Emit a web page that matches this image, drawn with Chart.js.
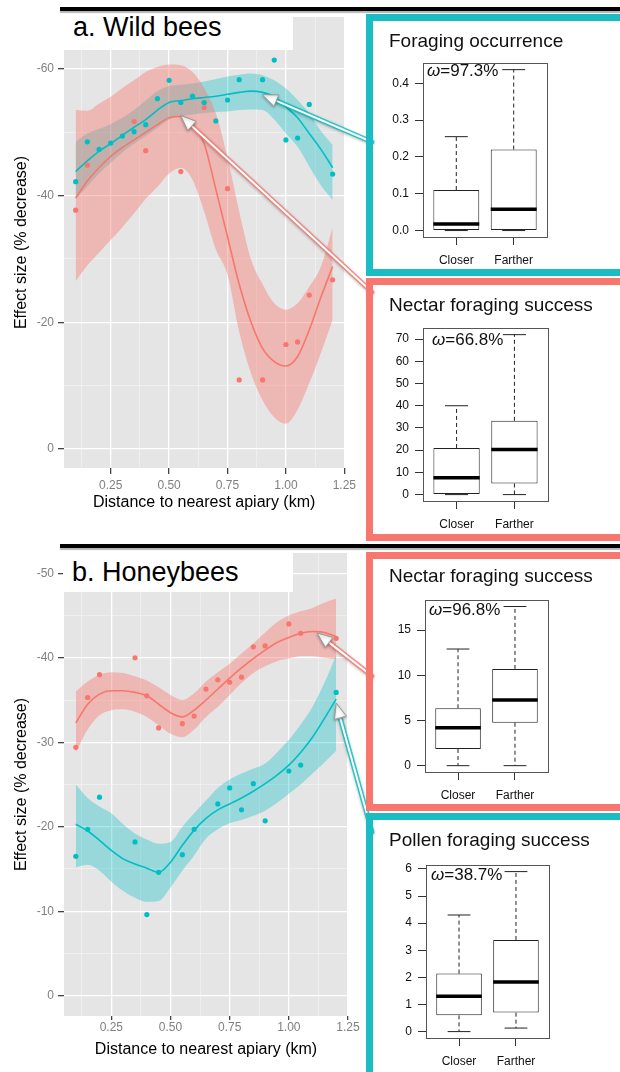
<!DOCTYPE html>
<html>
<head>
<meta charset="utf-8">
<script src="https://cdn.jsdelivr.net/npm/chart.js@4.4.1/dist/chart.umd.min.js"></script>
<style>
  body { margin: 0; background: #fff; font-family: 'Liberation Sans', Arial, sans-serif; }
  #page { position: relative; width: 620px; height: 1072px; overflow: hidden; background: #fff; }
  canvas { position: absolute; }
  .rule { position: absolute; left: 60px; width: 560px; height: 4px; background: #000; box-shadow: 0 2px 1px #b5b5b5; z-index: 6; }
  .tagbox { position: absolute; background: #fff; z-index: 3; }
  .tag { position: absolute; font-size: 27px; line-height: 1; color: #000; white-space: nowrap; z-index: 4; }
  .panel { position: absolute; left: 366px; width: 270px; border: 7px solid; box-sizing: border-box; z-index: 3; }
  .ptitle { position: absolute; left: 389px; font-size: 19px; line-height: 1; color: #111; white-space: nowrap; z-index: 5; }
  .omega { position: absolute; font-size: 17px; line-height: 1; color: #111; white-space: nowrap; z-index: 5; }
</style>
</head>
<body>
<div id="page">
  <canvas id="wild" width="360" height="520" style="left:0;top:0;z-index:1"></canvas>
  <canvas id="honey" width="360" height="532" style="left:0;top:540px;z-index:1"></canvas>
  <canvas id="arrows" width="620" height="1072" style="left:0;top:0;z-index:2"></canvas>

  <div class="tagbox" style="left:60px;top:12px;width:233px;height:38px"></div>
  <div class="tag" style="left:73px;top:14px">a. Wild bees</div>
  <div class="tagbox" style="left:63px;top:550px;width:230px;height:42px"></div>
  <div class="tag" style="left:72px;top:559px">b. Honeybees</div>

  <div class="panel" style="top:14px;height:262px;border-color:#1bbdc4"></div>
  <div class="panel" style="top:278px;height:263px;border-color:#f7776e"></div>
  <div class="panel" style="top:552px;height:259px;border-color:#f7776e"></div>
  <div class="panel" style="top:813px;height:270px;border-color:#1bbdc4"></div>

  <div class="rule" style="top:7px"></div>
  <div class="rule" style="top:544px"></div>

  <canvas id="box1" width="235" height="225" style="left:375px;top:50px;z-index:4"></canvas>
  <canvas id="box2" width="235" height="224" style="left:375px;top:315px;z-index:4"></canvas>
  <canvas id="box3" width="235" height="223" style="left:375px;top:587px;z-index:4"></canvas>
  <canvas id="box4" width="235" height="220" style="left:375px;top:852px;z-index:4"></canvas>

  <div class="ptitle" style="top:31px">Foraging occurrence</div>
  <div class="ptitle" style="top:295px">Nectar foraging success</div>
  <div class="ptitle" style="top:566px">Nectar foraging success</div>
  <div class="ptitle" style="top:830px">Pollen foraging success</div>

  <div class="omega" style="left:427px;top:62px"><i>ω</i>=97.3%</div>
  <div class="omega" style="left:432px;top:331px"><i>ω</i>=66.8%</div>
  <div class="omega" style="left:429px;top:601px"><i>ω</i>=96.8%</div>
  <div class="omega" style="left:431px;top:866px"><i>ω</i>=38.7%</div>
</div>

<script>
const TEAL = '#00BFC4';
const RED = '#F8766D';

// ---- a. Wild bees: raw points
const wildBlueX = [0.10,0.15,0.20,0.25,0.30,0.35,0.40,0.45,0.50,0.55,0.60,0.65,0.70,0.75,0.80,0.90,0.95,1.00,1.05,1.10,1.20];
const wildBlueY = [-42.2,-48.5,-47.3,-48.3,-49.4,-50.1,-51.2,-55.3,-58.2,-54.7,-55.7,-54.7,-51.8,-55.1,-58.3,-58.3,-61.4,-48.8,-49.1,-54.4,-43.4];
const wildRedX = [0.10,0.15,0.35,0.40,0.55,0.60,0.65,0.75,0.80,0.90,1.00,1.05,1.10,1.20];
const wildRedY = [-37.7,-44.8,-51.7,-47.1,-43.8,-51.5,-53.9,-41.1,-10.9,-10.9,-16.5,-16.9,-24.3,-26.7];

// x positions where the smooth fits and their bands were read
const fitX = [0.10,0.15,0.20,0.25,0.30,0.35,0.40,0.45,0.50,0.55,0.60,0.65,0.70,0.75,0.80,0.85,0.90,0.95,1.00,1.05,1.10,1.15,1.20];

const wildRedFit = [-39.6,-42.3,-44.4,-46.2,-47.6,-48.8,-50.0,-51.2,-52.3,-52.5,-51.0,-48.2,-41.0,-33.5,-26.0,-20.1,-15.9,-13.8,-13.1,-14.6,-18.8,-24.0,-28.8];
const wildRedHi  = [-53.5,-53.4,-54.5,-55.6,-57.0,-58.2,-59.5,-60.3,-60.7,-60.6,-59.5,-57.0,-53.0,-46.0,-37.5,-30.0,-26.0,-23.0,-22.0,-23.0,-25.6,-28.8,-35.0];
const wildRedLo  = [-26.5,-29.0,-31.0,-33.0,-35.0,-37.2,-39.5,-41.4,-43.5,-44.4,-42.5,-37.5,-31.5,-27.5,-18.5,-12.0,-7.7,-5.0,-4.0,-6.2,-10.4,-15.2,-20.4];
const wildBlueFit = [-43.8,-45.5,-47.0,-48.2,-49.5,-50.8,-52.0,-53.5,-54.7,-55.0,-55.3,-55.5,-55.7,-56.0,-56.3,-56.5,-56.3,-55.6,-54.0,-52.3,-49.8,-47.3,-44.4];
const wildBlueHi  = [-48.5,-49.8,-50.5,-51.3,-52.3,-53.5,-55.0,-56.5,-57.3,-57.5,-57.7,-58.0,-58.4,-58.8,-59.1,-59.3,-59.0,-58.2,-56.9,-55.1,-53.0,-50.2,-48.0];
const wildBlueLo  = [-39.5,-41.5,-43.5,-45.2,-46.8,-48.2,-49.4,-50.7,-52.0,-52.5,-52.8,-53.0,-53.2,-53.3,-53.5,-53.6,-53.5,-52.0,-49.8,-47.7,-44.6,-41.6,-39.3];

// ---- b. Honeybees
const honeyRedX = [0.10,0.15,0.20,0.35,0.40,0.45,0.55,0.60,0.65,0.70,0.75,0.80,0.85,0.90,1.00,1.05,1.20];
const honeyRedY = [-29.4,-35.3,-38.0,-40.0,-35.5,-31.7,-32.2,-33.1,-36.3,-37.4,-37.1,-37.7,-41.3,-41.4,-44.0,-42.9,-42.3];
const honeyBlueX = [0.10,0.15,0.20,0.35,0.40,0.45,0.55,0.60,0.70,0.75,0.80,0.85,0.90,1.00,1.05,1.20];
const honeyBlueY = [-16.5,-19.7,-23.5,-18.2,-9.6,-14.6,-16.7,-19.7,-22.7,-24.6,-22.0,-25.1,-20.7,-26.6,-27.3,-35.9];

const honeyRedFit = [-32.3,-34.5,-35.7,-36.1,-36.1,-35.9,-35.5,-34.5,-33.5,-33.0,-33.8,-35.0,-36.3,-37.6,-38.8,-39.9,-40.9,-41.8,-42.4,-42.9,-43.1,-43.0,-42.5];
const honeyRedHi  = [-36.0,-37.2,-38.0,-38.3,-38.2,-37.8,-37.3,-36.5,-35.6,-35.0,-35.8,-37.2,-38.3,-39.3,-40.5,-41.7,-43.0,-44.2,-45.0,-45.5,-45.9,-46.5,-47.0];
const honeyRedLo  = [-28.8,-31.5,-33.2,-33.8,-33.9,-33.6,-33.0,-32.0,-31.0,-30.6,-31.5,-33.0,-34.2,-35.6,-37.0,-38.2,-39.0,-39.6,-39.9,-40.2,-40.2,-40.0,-39.8];
const honeyBlueFit = [-20.3,-19.5,-18.4,-17.2,-16.2,-15.6,-15.1,-14.6,-15.8,-17.8,-19.6,-21.0,-22.0,-22.7,-23.4,-24.2,-25.1,-26.1,-27.3,-28.8,-30.6,-32.8,-35.1];
const honeyBlueHi  = [-25.0,-23.4,-22.4,-21.6,-20.3,-19.2,-18.5,-18.0,-18.2,-20.0,-21.6,-23.1,-24.6,-25.6,-26.3,-26.9,-27.5,-28.8,-30.3,-32.1,-34.2,-37.0,-40.3];
const honeyBlueLo  = [-15.2,-15.5,-14.8,-13.5,-12.4,-11.6,-11.1,-11.2,-12.8,-14.8,-16.6,-18.6,-19.7,-20.4,-20.8,-21.3,-21.9,-22.8,-23.9,-25.0,-26.3,-27.6,-29.0];

// axis ticks (minor ones get a grid line only)
const distTicks = [0.125,0.25,0.375,0.50,0.625,0.75,0.875,1.00,1.125,1.25];
const effTicksA = [-60,-50,-40,-30,-20,-10,0];
const effTicksB = [-50,-45,-40,-35,-30,-25,-20,-15,-10,-5,0];

// ---- boxplots
const groups = ['Closer', 'Farther'];
const groupPos = [1, 2];

const occLo = [0, 0],     occQ1 = [0, 0],       occMed = [0.018, 0.058], occQ3 = [0.11, 0.22],   occHi = [0.255, 0.437];
const wNecLo = [0, 0],    wNecQ1 = [0, 5],      wNecMed = [7.6, 20.3],   wNecQ3 = [21, 33.2],    wNecHi = [40, 72];
const hNecLo = [0, 0],    hNecQ1 = [1.85, 4.75], hNecMed = [4.2, 7.25],  hNecQ3 = [6.35, 10.7],  hNecHi = [12.9, 17.6];
const polLo = [0, 0.13],  polQ1 = [0.6, 0.7],   polMed = [1.3, 1.83],    polQ3 = [2.14, 3.38],   polHi = [4.3, 5.9];

const occTicks = [0, 0.1, 0.2, 0.3, 0.4];
const wNecTicks = [0, 10, 20, 30, 40, 50, 60, 70];
const hNecTicks = [0, 5, 10, 15];
const polTicks = [0, 1, 2, 3, 4, 5, 6];

Chart.defaults.font.family = "'Liberation Sans', Arial, sans-serif";

function pts(xs, ys) {
    return xs.map((x, i) => ({x: x, y: ys[i]}));
}

// grey ggplot panel behind the grid
const panelBg = {
    id: 'panelBg',
    beforeDraw(chart) {
        const a = chart.chartArea;
        chart.ctx.save();
        chart.ctx.fillStyle = '#e5e5e5';
        chart.ctx.fillRect(a.left, a.top, a.width, a.height);
        chart.ctx.restore();
    }
};

function isQuarter(v) {
    return Math.abs(v * 4 - Math.round(v * 4)) < 1e-6;
}

function effectChart(id, s) {
    const none = 'rgba(0,0,0,0)';
    const pointSet = (xs, ys, c) => ({
        data: pts(xs, ys), showLine: false, pointRadius: 2.6, pointBorderWidth: 0,
        pointBackgroundColor: c, borderColor: c, order: 0
    });
    const fitSet = (ys, c) => ({
        data: pts(fitX, ys), borderColor: c, borderWidth: 1.6, pointRadius: 0,
        cubicInterpolationMode: 'monotone', fill: false, order: 1
    });
    const bandSet = (ys, fillColor) => ({
        data: pts(fitX, ys), borderColor: none, borderWidth: 0, pointRadius: 0,
        cubicInterpolationMode: 'monotone', fill: fillColor ? '+1' : false,
        backgroundColor: fillColor || none, order: 2
    });

    return new Chart(document.getElementById(id), {
        type: 'line',
        data: {
            datasets: [
                pointSet(s.redX, s.redY, RED),
                pointSet(s.blueX, s.blueY, TEAL),
                fitSet(s.redFit, RED),
                fitSet(s.blueFit, TEAL),
                bandSet(s.redHi, 'rgba(248,118,109,0.42)'),
                bandSet(s.redLo, null),
                bandSet(s.blueHi, 'rgba(0,191,196,0.33)'),
                bandSet(s.blueLo, null)
            ]
        },
        options: {
            responsive: false,
            animation: false,
            events: [],
            layout: { padding: { top: s.padTop, right: 12, left: 0, bottom: 0 } },
            plugins: { legend: { display: false }, tooltip: { enabled: false } },
            scales: {
                x: {
                    type: 'linear', min: 0.05, max: 1.25,
                    afterBuildTicks: sc => { sc.ticks = distTicks.map(v => ({value: v})); },
                    afterFit: sc => { sc.height = s.xHeight; },
                    border: { display: false },
                    grid: {
                        color: c => isQuarter(c.tick.value) ? '#ffffff' : 'rgba(255,255,255,0.55)',
                        lineWidth: c => isQuarter(c.tick.value) ? 1.3 : 0.7,
                        tickColor: c => isQuarter(c.tick.value) ? '#444' : 'rgba(0,0,0,0)',
                        tickLength: s.xTick
                    },
                    ticks: {
                        autoSkip: false, maxRotation: 0, padding: s.xPad,
                        color: '#7f7f7f', font: { size: 12 },
                        callback: v => isQuarter(v) ? v.toFixed(2) : ''
                    },
                    title: {
                        display: true, text: 'Distance to nearest apiary (km)',
                        color: '#000', font: { size: 16 }, padding: { top: 0, bottom: s.titlePad }
                    }
                },
                y: {
                    type: 'linear', reverse: true, min: s.yMin, max: s.yMax,
                    afterBuildTicks: sc => { sc.ticks = s.yTicks.map(v => ({value: v})); },
                    afterFit: sc => { sc.width = 64; },
                    border: { display: false },
                    grid: {
                        color: c => c.tick.value % s.major === 0 ? '#ffffff' : 'rgba(255,255,255,0.55)',
                        lineWidth: c => c.tick.value % s.major === 0 ? 1.3 : 0.7,
                        tickColor: c => c.tick.value % s.major === 0 ? '#444' : 'rgba(0,0,0,0)',
                        tickLength: 6
                    },
                    ticks: {
                        padding: 4, color: '#7f7f7f', font: { size: 12 },
                        callback: v => v % s.major === 0 ? String(v) : ''
                    },
                    title: {
                        display: true, text: 'Effect size (% decrease)',
                        color: '#000', font: { size: 16 }, padding: { top: 12, bottom: 0 }
                    }
                }
            }
        },
        plugins: [panelBg]
    });
}

const wildChart = effectChart('wild', {
    redX: wildRedX, redY: wildRedY, blueX: wildBlueX, blueY: wildBlueY,
    redFit: wildRedFit, redHi: wildRedHi, redLo: wildRedLo,
    blueFit: wildBlueFit, blueHi: wildBlueHi, blueLo: wildBlueLo,
    yMin: -68.2, yMax: 3, yTicks: effTicksA, major: 20,
    padTop: 17, xHeight: 52, xTick: 6, xPad: 4, titlePad: 8
});

const honeyChart = effectChart('honey', {
    redX: honeyRedX, redY: honeyRedY, blueX: honeyBlueX, blueY: honeyBlueY,
    redFit: honeyRedFit, redHi: honeyRedHi, redLo: honeyRedLo,
    blueFit: honeyBlueFit, blueHi: honeyBlueHi, blueLo: honeyBlueLo,
    yMin: -52.4, yMax: 2.4, yTicks: effTicksB, major: 10,
    padTop: 13, xHeight: 56, xTick: 4, xPad: 0, titlePad: 13
});

// whiskers, caps, medians and the R style frame
const boxStats = {
    id: 'boxStats',
    afterDatasetsDraw(chart, args, o) {
        const ctx = chart.ctx;
        const y = chart.scales.y;
        const bars = chart.getDatasetMeta(0).data;
        const seg = (x0, y0, x1, y1) => {
            ctx.beginPath(); ctx.moveTo(x0, y0); ctx.lineTo(x1, y1); ctx.stroke();
        };
        ctx.save();
        ctx.strokeStyle = '#222';
        bars.forEach((bar, i) => {
            const x = bar.x, w = bar.width;
            ctx.lineWidth = 1;
            ctx.setLineDash([4, 3]);
            seg(x, y.getPixelForValue(o.q3[i]), x, y.getPixelForValue(o.hi[i]));
            seg(x, y.getPixelForValue(o.q1[i]), x, y.getPixelForValue(o.lo[i]));
            ctx.setLineDash([]);
            seg(x - w / 4, y.getPixelForValue(o.hi[i]), x + w / 4, y.getPixelForValue(o.hi[i]));
            seg(x - w / 4, y.getPixelForValue(o.lo[i]), x + w / 4, y.getPixelForValue(o.lo[i]));
            ctx.lineWidth = 3.5;
            ctx.strokeStyle = '#000';
            seg(x - w / 2, y.getPixelForValue(o.med[i]), x + w / 2, y.getPixelForValue(o.med[i]));
            ctx.strokeStyle = '#222';
        });
        const a = chart.chartArea;
        ctx.lineWidth = 1;
        ctx.strokeStyle = '#555';
        ctx.strokeRect(Math.round(a.left) + 0.5, Math.round(a.top) + 0.5, Math.round(a.width), Math.round(a.height));
        ctx.restore();
    }
};

function boxChart(id, s) {
    return new Chart(document.getElementById(id), {
        type: 'bar',
        data: {
            datasets: [{
                data: groupPos.map((x, i) => ({x: x, y: [s.q1[i], s.q3[i]]})),
                backgroundColor: '#fff', borderColor: '#222', borderWidth: 1, borderSkipped: false,
                categoryPercentage: 1, barPercentage: 0.8
            }]
        },
        options: {
            responsive: false,
            animation: false,
            events: [],
            layout: { padding: { top: 10, right: s.padRight, left: 0, bottom: 0 } },
            plugins: {
                legend: { display: false }, tooltip: { enabled: false },
                boxStats: { q1: s.q1, q3: s.q3, med: s.med, lo: s.lo, hi: s.hi }
            },
            scales: {
                x: {
                    type: 'linear', min: 0.42, max: 2.58, offset: false,
                    afterBuildTicks: sc => { sc.ticks = groupPos.map(v => ({value: v})); },
                    afterFit: sc => { sc.height = s.xHeight; },
                    border: { display: false },
                    grid: { offset: false, drawOnChartArea: false, tickLength: 8, tickColor: '#333' },
                    ticks: {
                        autoSkip: false, maxRotation: 0, padding: 8, color: '#111', font: { size: 12 },
                        callback: v => groups[groupPos.indexOf(v)] || ''
                    }
                },
                y: {
                    min: s.yMin, max: s.yMax,
                    afterBuildTicks: sc => { sc.ticks = s.ticks.map(v => ({value: v})); },
                    afterFit: sc => { sc.width = s.yWidth; },
                    border: { display: false },
                    grid: { drawOnChartArea: false, tickLength: 8, tickColor: '#333' },
                    ticks: { padding: 6, color: '#111', font: { size: 12 }, callback: s.fmt }
                }
            }
        },
        plugins: [boxStats]
    });
}

boxChart('box1', { q1: occQ1, q3: occQ3, med: occMed, lo: occLo, hi: occHi,
    ticks: occTicks, yMin: -0.0175, yMax: 0.4545, fmt: v => v.toFixed(1),
    yWidth: 48, padRight: 63, xHeight: 38 });
boxChart('box2', { q1: wNecQ1, q3: wNecQ3, med: wNecMed, lo: wNecLo, hi: wNecHi,
    ticks: wNecTicks, yMin: -2.88, yMax: 74.9, fmt: v => String(v),
    yWidth: 48, padRight: 62, xHeight: 38 });
boxChart('box3', { q1: hNecQ1, q3: hNecQ3, med: hNecMed, lo: hNecLo, hi: hNecHi,
    ticks: hNecTicks, yMin: -0.70, yMax: 18.3, fmt: v => String(v),
    yWidth: 50, padRight: 62, xHeight: 38 });
boxChart('box4', { q1: polQ1, q3: polQ3, med: polMed, lo: polLo, hi: polHi,
    ticks: polTicks, yMin: -0.236, yMax: 6.136, fmt: v => String(v),
    yWidth: 51, padRight: 61, xHeight: 34 });

// arrows from the boxplot panels to the fitted curves
const arrowList = [
    { chart: wildChart,  x: 0.90, y: -55.9, color: TEAL, tail: [372, 142] },
    { chart: wildChart,  x: 0.55, y: -52.6, color: RED,  tail: [372, 292] },
    { chart: honeyChart, x: 1.12, y: -42.9, color: RED,  tail: [372, 676] },
    { chart: honeyChart, x: 1.20, y: -34.6, color: TEAL, tail: [372, 832] }
];

const actx = document.getElementById('arrows').getContext('2d');
arrowList.forEach(a => {
    const cv = a.chart.canvas;
    const hx = cv.offsetLeft + a.chart.scales.x.getPixelForValue(a.x);
    const hy = cv.offsetTop + a.chart.scales.y.getPixelForValue(a.y);
    const tx = a.tail[0], ty = a.tail[1];
    const ang = Math.atan2(hy - ty, hx - tx);
    const len = 15, half = 6;
    const bx = hx - Math.cos(ang) * len, by = hy - Math.sin(ang) * len;

    actx.save();
    actx.lineCap = 'round';
    actx.shadowColor = 'rgba(0,0,0,0.3)';
    actx.shadowBlur = 3;
    actx.shadowOffsetY = 1;
    actx.strokeStyle = a.color;
    actx.globalAlpha = 0.8;
    actx.lineWidth = 5;
    actx.beginPath(); actx.moveTo(tx, ty); actx.lineTo(bx, by); actx.stroke();
    actx.globalAlpha = 1;
    actx.shadowColor = 'rgba(0,0,0,0)';
    actx.strokeStyle = '#fff';
    actx.lineWidth = 2;
    actx.beginPath(); actx.moveTo(tx, ty); actx.lineTo(bx + Math.cos(ang) * 3, by + Math.sin(ang) * 3); actx.stroke();
    // head
    actx.shadowColor = 'rgba(0,0,0,0.3)';
    actx.beginPath();
    actx.moveTo(hx, hy);
    actx.lineTo(bx + Math.sin(ang) * half, by - Math.cos(ang) * half);
    actx.lineTo(bx - Math.sin(ang) * half, by + Math.cos(ang) * half);
    actx.closePath();
    actx.fillStyle = '#fff';
    actx.fill();
    actx.strokeStyle = '#9a9a9a';
    actx.lineWidth = 1;
    actx.stroke();
    actx.restore();
});
</script>
</body>
</html>
